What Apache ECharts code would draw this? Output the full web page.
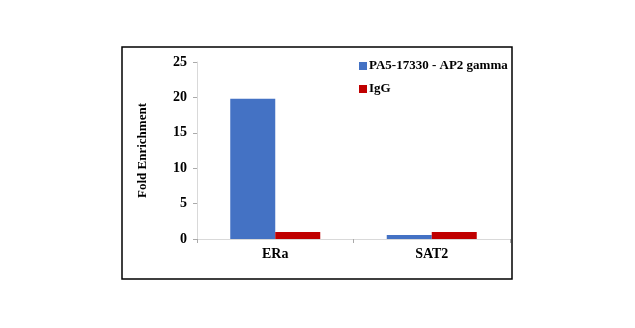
<!DOCTYPE html>
<html><head><meta charset="utf-8">
<script src="https://cdn.jsdelivr.net/npm/echarts@6/dist/echarts.min.js"></script>
<style>html,body{margin:0;padding:0;background:#fff}#c{width:635px;height:328px}</style>
</head><body><div id="c"></div>
<script>
var categories = ['ERa', 'SAT2'];
var seriesNames = ['PA5-17330 - AP2 gamma', 'IgG'];
var apValues = [19.8, 0.55];
var iggValues = [1.0, 1.0];
var yTicks = [0, 5, 10, 15, 20, 25];

var font = '"Liberation Serif", "Times New Roman", serif';
var chart = echarts.init(document.getElementById('c'));
chart.setOption({
  animation: false,
  backgroundColor: '#fff',
  graphic: [{
    type: 'rect', shape: {x: 122, y: 47, width: 390, height: 232},
    style: {fill: 'none', stroke: '#000', lineWidth: 1.5}, silent: true
  }],
  grid: {left: 197, right: 125, top: 62, bottom: 89},
  legend: {
    orient: 'vertical', left: 354, top: 54,
    itemWidth: 8, itemHeight: 8, itemGap: 9,
    icon: 'rect',
    textStyle: {fontFamily: font, fontWeight: 'bold', fontSize: 13, color: '#000', lineHeight: 14, padding: [0,0,0,-3]},
    data: seriesNames
  },
  xAxis: {
    type: 'category', data: categories,
    axisLine: {lineStyle: {color: '#d9d9d9'}},
    axisTick: {show: true, length: 4, lineStyle: {color: '#aaa'}},
    axisLabel: {fontFamily: font, fontWeight: 'bold', fontSize: 14, color: '#000', margin: 8}
  },
  yAxis: {
    type: 'value', min: yTicks[0], max: yTicks[yTicks.length-1], interval: 5,
    name: 'Fold Enrichment', nameLocation: 'middle', nameGap: 48, nameRotate: 90,
    nameTextStyle: {fontFamily: font, fontWeight: 'bold', fontSize: 13, color: '#000'},
    axisLine: {show: true, lineStyle: {color: '#d9d9d9'}},
    axisTick: {show: true, length: 4, lineStyle: {color: '#aaa'}},
    splitLine: {show: false},
    axisLabel: {fontFamily: font, fontWeight: 'bold', fontSize: 14, color: '#000', margin: 10}
  },
  series: [
    {name: seriesNames[0], type: 'bar', data: apValues, barWidth: 45, barGap: '0%', itemStyle: {color: '#4472C4'}},
    {name: seriesNames[1], type: 'bar', data: iggValues, barWidth: 45, barGap: '0%', itemStyle: {color: '#C00000'}}
  ]
});
</script></body></html>
